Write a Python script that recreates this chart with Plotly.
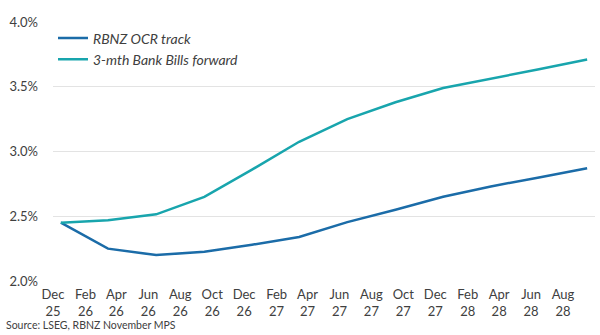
import plotly.graph_objects as go

dates = ["2025-12-16", "2026-03-16", "2026-06-16", "2026-09-16", "2026-12-16", "2027-03-16",
         "2027-06-16", "2027-09-16", "2027-12-16", "2028-03-16", "2028-06-16", "2028-09-16"]
ocr_track = [2.45, 2.25, 2.20, 2.226, 2.28, 2.34, 2.455, 2.55, 2.65, 2.73, 2.80, 2.87]
bank_bills = [2.45, 2.47, 2.515, 2.65, 2.86, 3.075, 3.25, 3.38, 3.49, 3.565, 3.635, 3.71]

tick_dates = ["2025-12-01", "2026-02-01", "2026-04-01", "2026-06-01", "2026-08-01", "2026-10-01",
              "2026-12-01", "2027-02-01", "2027-04-01", "2027-06-01", "2027-08-01", "2027-10-01",
              "2027-12-01", "2028-02-01", "2028-04-01", "2028-06-01", "2028-08-01"]
tick_labels = ["Dec<br>25", "Feb<br>26", "Apr<br>26", "Jun<br>26", "Aug<br>26", "Oct<br>26",
               "Dec<br>26", "Feb<br>27", "Apr<br>27", "Jun<br>27", "Aug<br>27", "Oct<br>27",
               "Dec<br>27", "Feb<br>28", "Apr<br>28", "Jun<br>28", "Aug<br>28"]
y_ticks = [2.0, 2.5, 3.0, 3.5, 4.0]
y_labels = ["2.0%", "2.5%", "3.0%", "3.5%", "4.0%"]

FONT = "Lato"
TXT = "#404040"

fig = go.Figure()
fig.add_trace(go.Scatter(x=dates, y=ocr_track, mode="lines", name="RBNZ OCR track",
                         line=dict(color="#1b6ca8", width=2.5)))
fig.add_trace(go.Scatter(x=dates, y=bank_bills, mode="lines", name="3-mth Bank Bills forward",
                         line=dict(color="#18a5ad", width=2.5)))

fig.update_layout(
    width=600, height=335,
    margin=dict(l=53, r=5, t=22, b=54),
    paper_bgcolor="white", plot_bgcolor="white",
    font=dict(family=FONT, color=TXT, size=13),
    showlegend=True,
    legend=dict(x=0.0, y=0.998, xanchor="left", yanchor="top",
                font=dict(family=FONT, size=14, color=TXT, style="italic"),
                bgcolor="rgba(0,0,0,0)", tracegroupgap=0),
    xaxis=dict(type="date", range=["2025-12-01", "2028-10-01"],
               tickvals=tick_dates, ticktext=tick_labels, tickangle=0,
               showgrid=False, zeroline=False, showline=False, ticks="",
               ticklabelstandoff=4,
               tickfont=dict(family=FONT, size=13, color=TXT)),
    yaxis=dict(range=[2.0, 4.0], tickvals=y_ticks, ticktext=y_labels,
               showgrid=True, gridcolor="#e3e3e3", gridwidth=1, zeroline=False,
               showline=False, ticks="", ticklabelstandoff=14,
               tickfont=dict(family=FONT, size=13, color=TXT)),
)

fig.add_annotation(text="Source: LSEG, RBNZ November MPS", xref="paper", yref="paper",
                   x=-49/542, y=-44/259,
                   xanchor="left", yanchor="middle", showarrow=False,
                   font=dict(family=FONT, size=10.5, color=TXT))

fig.write_html("out.html")
